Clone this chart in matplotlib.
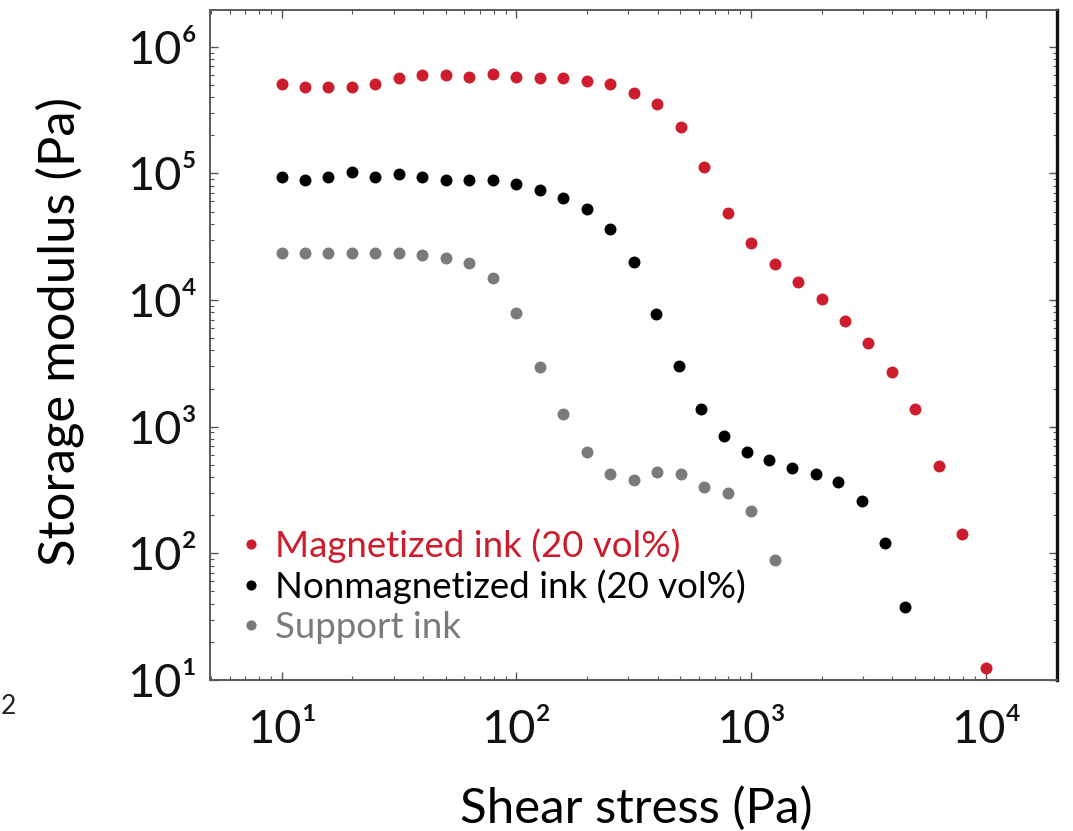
import matplotlib
matplotlib.use('Agg')
import matplotlib.pyplot as plt
from matplotlib.ticker import LogLocator, NullFormatter

FONT = ['Lato', 'DejaVu Sans']
plt.rcParams['font.family'] = FONT

# ---------------- data ----------------
magnetized_x = [10, 12.6, 15.8, 20.0, 25.1, 31.6, 39.8, 50.1, 63.1, 79.4,
                100, 126, 158, 200, 251, 316, 398, 501, 631, 794,
                1000, 1259, 1585, 1995, 2512, 3162, 3981, 5012, 6310, 7943, 10000]
magnetized_y = [5.04e5, 4.83e5, 4.83e5, 4.83e5, 5.04e5, 5.62e5, 5.97e5, 5.97e5, 5.80e5, 6.04e5,
                5.80e5, 5.62e5, 5.62e5, 5.40e5, 5.04e5, 4.33e5, 3.52e5, 2.31e5, 1.13e5, 4.83e4,
                2.84e4, 1.91e4, 1.40e4, 1.01e4, 6.87e3, 4.61e3, 2.69e3, 1.37e3, 489, 141, 12.4]

nonmagnetized_x = [10, 12.6, 15.8, 20.0, 25.1, 31.6, 39.8, 50.1, 63.1, 79.4,
                   100, 126, 158, 200, 251, 316, 393, 493, 610, 764,
                   962, 1191, 1489, 1884, 2355, 2979, 3715, 4529]
nonmagnetized_y = [9.42e4, 8.85e4, 9.42e4, 1.02e5, 9.42e4, 9.80e4, 9.42e4, 8.85e4, 8.85e4, 8.85e4,
                   8.22e4, 7.38e4, 6.42e4, 5.20e4, 3.63e4, 1.98e4, 7.71e3, 2.99e3, 1.38e3, 838,
                   627, 542, 469, 423, 368, 259, 121, 37.9]

support_x = [10, 12.6, 15.8, 20.0, 25.1, 31.6, 39.8, 50.1, 63.1, 79.4,
             100, 126, 158, 200, 251, 316, 398, 501, 631, 794, 1000, 1259]
support_y = [2.37e4, 2.37e4, 2.37e4, 2.37e4, 2.37e4, 2.37e4, 2.27e4, 2.13e4, 1.97e4, 1.48e4,
             7.85e3, 2.98e3, 1.27e3, 627, 423, 379, 436, 423, 332, 298, 216, 88.5]

series_labels = ['Magnetized ink (20 vol%)', 'Nonmagnetized ink (20 vol%)', 'Support ink']
series_colors = ['#cd1c2c', '#000000', '#7a7a7a']

x_ticks = [10, 100, 1000, 10000]
x_tick_labels = ['10\u00b9', '10\u00b2', '10\u00b3', '10\u2074']
y_ticks = [10, 100, 1e3, 1e4, 1e5, 1e6]
y_tick_labels = ['10\u00b9', '10\u00b2', '10\u00b3', '10\u2074', '10\u2075', '10\u2076']

x_label = 'Shear stress (Pa)'
y_label = 'Storage modulus (Pa)'

# ---------------- figure ----------------
W, H = 1073, 831
fig = plt.figure(figsize=(W / 100, H / 100), dpi=100)
L, R, T, B = 210, 1057, 10, 680
ax = fig.add_axes([L / W, (H - B) / H, (R - L) / W, (B - T) / H])
ax.set_xscale('log')
ax.set_yscale('log')

for xs, ys, lab, col in zip([magnetized_x, nonmagnetized_x, support_x],
                            [magnetized_y, nonmagnetized_y, support_y],
                            series_labels, series_colors):
    ax.plot(xs, ys, linestyle='none', marker='o', ms=8.6, mfc=col, mec='none',
            label=lab, clip_on=False, zorder=3)

ax.set_xlim(4.95, 20100)
ax.set_ylim(10, 1.95e6)

ax.set_xticks(x_ticks, labels=x_tick_labels)
ax.set_yticks(y_ticks, labels=y_tick_labels)
sub = (2, 3, 4, 5, 6, 7, 8, 9)
ax.xaxis.set_minor_locator(LogLocator(base=10, subs=sub, numticks=40))
ax.yaxis.set_minor_locator(LogLocator(base=10, subs=sub, numticks=40))
ax.xaxis.set_minor_formatter(NullFormatter())
ax.yaxis.set_minor_formatter(NullFormatter())

ax.tick_params(which='both', direction='in', top=True, right=True,
               color='#555555', labelcolor='#111111')
ax.tick_params(which='major', length=6, width=1.0)
ax.tick_params(which='minor', length=3, width=0.8)

for side in ['left', 'top', 'bottom']:
    ax.spines[side].set_color('#5a5a5a')
    ax.spines[side].set_linewidth(1.4)
ax.spines['right'].set_color('#111111')
ax.spines['right'].set_linewidth(2.4)

# fragment of neighbouring panel label
fig.text(1 / W, 1 - 706 / H, '2', fontsize=19, color='#222222', va='center', ha='left')


def draw():
    fig.canvas.draw()
    return fig.canvas.get_renderer()


def bb(t, r):
    return t.get_window_extent(renderer=r)


# ---- tick labels ----
fs0 = 30
ax.tick_params(labelsize=fs0)
xpad, ypad = 18, 10
ax.tick_params(axis='x', which='major', pad=xpad)
ax.tick_params(axis='y', which='major', pad=ypad)
r = draw()
w = bb(ax.get_xticklabels()[1], r).width
tick_fs = fs0 * 70 / w
ax.tick_params(labelsize=tick_fs)
r = draw()
top = bb(ax.get_xticklabels()[1], r).y1          # want top at 709 px from top
xpad = xpad + (top - (H - 709)) * 0.72
right = bb(ax.get_yticklabels()[-1], r).x1       # want right edge at 197
ypad = ypad + (right - 197) * 0.72
ax.tick_params(axis='x', which='major', pad=xpad)
ax.tick_params(axis='y', which='major', pad=ypad)

# ---- axis labels ----
ax.set_xlabel(x_label, fontsize=30, va='center', ha='center')
ax.set_ylabel(y_label, fontsize=30, va='center', ha='center', rotation=90)
r = draw()
wx = bb(ax.xaxis.label, r).width
hy = bb(ax.yaxis.label, r).height
ax.xaxis.label.set_fontsize(30 * 353 / wx)
ax.yaxis.label.set_fontsize(30 * 468 / hy)
inv = ax.transAxes.inverted()
ax.xaxis.set_label_coords(*inv.transform((636.5, H - 808)))
ax.yaxis.set_label_coords(*inv.transform((59.5, H - 331)))
r = draw()
for axis, tx, ty in [(ax.xaxis, 636.5, H - 808), (ax.yaxis, 59.5, H - 331)]:
    b = bb(axis.label, r)
    cur = inv.transform(((b.x0 + b.x1) / 2, (b.y0 + b.y1) / 2))
    want = inv.transform((tx, ty))
    lx, ly = axis.label.get_position()
    axis.set_label_coords(lx + (want[0] - cur[0]), ly + (want[1] - cur[1]))


# ---- legend ----
def make_legend(fs, anchor, spacing, textpad, hl=0.5):
    return ax.legend(loc='upper left', bbox_to_anchor=anchor, bbox_transform=fig.transFigure,
                     frameon=False, markerscale=0.85, handlelength=hl, handletextpad=textpad,
                     labelspacing=spacing, borderpad=0, borderaxespad=0,
                     labelcolor='markerfacecolor', prop={'family': FONT, 'size': fs})


leg_fs = 24
anchor = [240 / W, (H - 525) / H]
spacing = 0.4
textpad = 0.5
leg = make_legend(leg_fs, anchor, spacing, textpad)
r = draw()
w = bb(leg.get_texts()[0], r).width
leg_fs = leg_fs * 406 / w
fs_px = leg_fs * 100 / 72
textpad = 24 / fs_px - 0.25
leg = make_legend(leg_fs, anchor, spacing, textpad)
r = draw()
t0, t1 = bb(leg.get_texts()[0], r), bb(leg.get_texts()[1], r)
gap = t0.y1 - t1.y1
spacing = spacing + (41.5 - gap) / fs_px
leg = make_legend(leg_fs, anchor, spacing, textpad)
r = draw()
t0 = bb(leg.get_texts()[0], r)
dx = 275 - t0.x0
dy = (H - 528) - t0.y1
anchor = [anchor[0] + dx / W, anchor[1] + dy / H]
leg = make_legend(leg_fs, anchor, spacing, textpad)

fig.savefig('out.png', dpi=100)
